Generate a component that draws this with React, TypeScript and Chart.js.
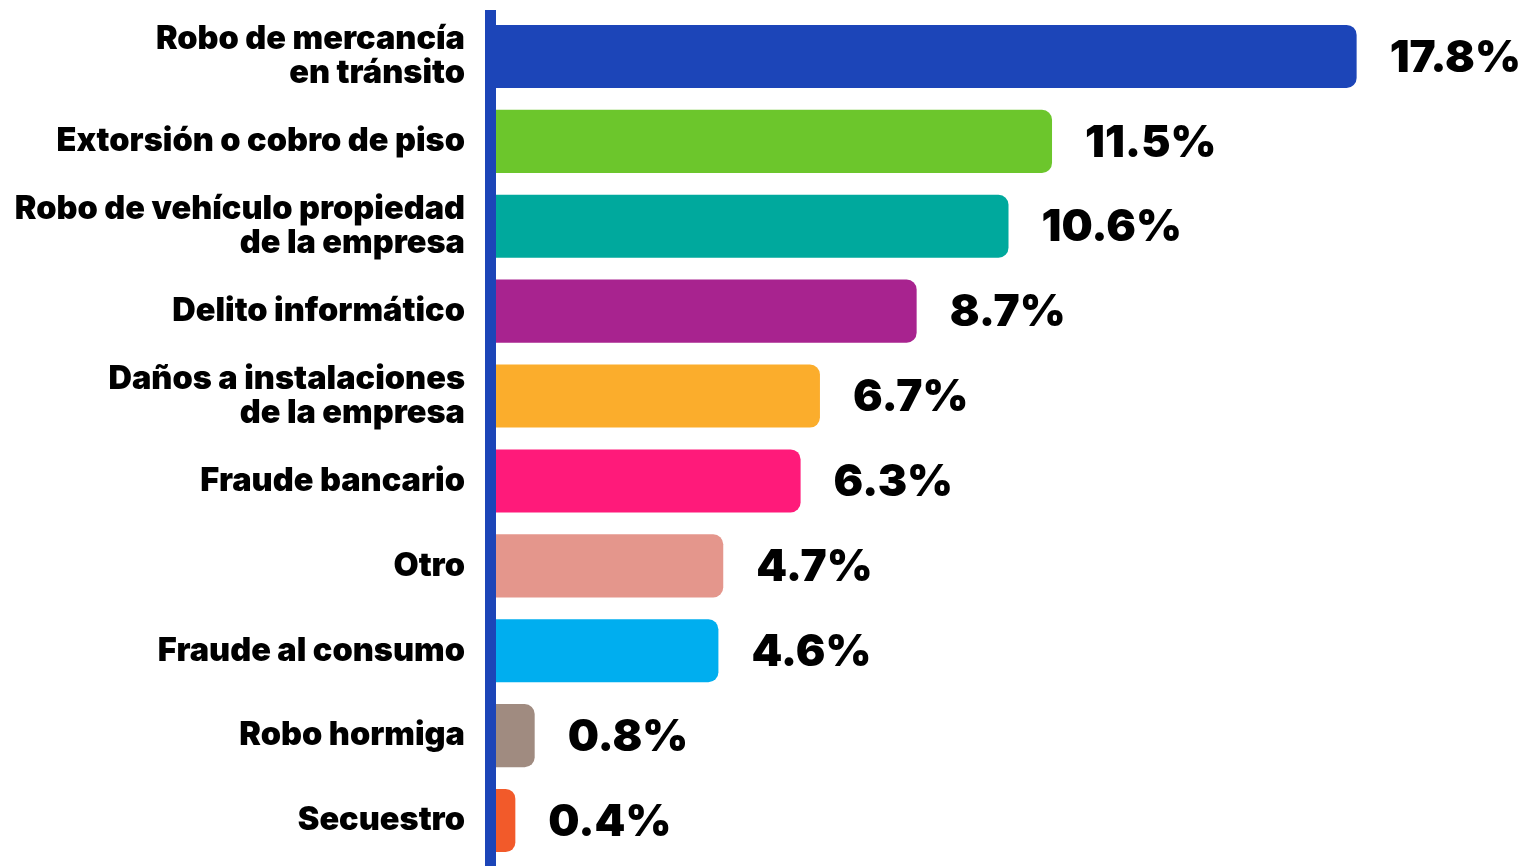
import React, { useEffect, useRef } from "react";
import { Chart, registerables } from "chart.js";

Chart.register(...registerables);

const categories: (string | string[])[] = [
  ["Robo de mercancía", "en tránsito"],
  "Extorsión o cobro de piso",
  ["Robo de vehículo propiedad", "de la empresa"],
  "Delito informático",
  ["Daños a instalaciones", "de la empresa"],
  "Fraude bancario",
  "Otro",
  "Fraude al consumo",
  "Robo hormiga",
  "Secuestro",
];

const values: number[] = [17.8, 11.5, 10.6, 8.7, 6.7, 6.3, 4.7, 4.6, 0.8, 0.4];

const barColors: string[] = [
  "#1c45b8",
  "#6cc62c",
  "#00a99d",
  "#a8238f",
  "#fbad2c",
  "#ff1a7a",
  "#e4968c",
  "#00aeef",
  "#a08b80",
  "#f25a2a",
];

const axisColor = "#1c45b8";
const FONT = "Inter, 'Noto Sans', sans-serif";

const overlayPlugin = {
  id: "overlay",
  beforeDatasetsDraw(chart: any) {
    const { ctx, chartArea } = chart;
    ctx.save();
    ctx.fillStyle = axisColor;
    ctx.fillRect(chartArea.left - 11, chartArea.top - 4, 11, chart.height - chartArea.top + 4);
    ctx.restore();
  },
  afterDatasetsDraw(chart: any) {
    const { ctx } = chart;
    const meta = chart.getDatasetMeta(0);
    ctx.save();
    ctx.fillStyle = "#000000";
    ctx.font = `900 44px ${FONT}`;
    ctx.textAlign = "left";
    ctx.textBaseline = "middle";
    meta.data.forEach((bar: any, i: number) => {
      const v = values[i];
      ctx.fillText(v.toFixed(1) + "%", bar.x + 33, bar.y + 2);
    });
    ctx.restore();
  },
};

export default function App() {
  const canvasRef = useRef<HTMLCanvasElement | null>(null);

  useEffect(() => {
    document.body.style.margin = "0";
    document.body.style.background = "#ffffff";
    const canvas = canvasRef.current;
    if (!canvas) return;
    const chart = new Chart(canvas, {
      type: "bar",
      data: {
        labels: categories,
        datasets: [
          {
            data: values,
            backgroundColor: barColors,
            borderRadius: 10,
            borderSkipped: "start",
            categoryPercentage: 1,
            barPercentage: 0.743,
          },
        ],
      },
      options: {
        indexAxis: "y",
        animation: false,
        responsive: false,
        maintainAspectRatio: false,
        layout: { padding: { top: 14, bottom: 3, right: 66, left: 0 } },
        plugins: {
          legend: { display: false },
          tooltip: { enabled: false },
        },
        scales: {
          x: {
            display: false,
            min: 0,
            max: 20,
          },
          y: {
            grid: { display: false },
            border: { display: false },
            afterFit(scale: any) {
              scale.width = 496;
              scale.paddingTop = 0;
              scale.paddingBottom = 0;
            },
            ticks: {
              color: "#000000",
              padding: 23,
              font: { family: FONT, size: 32.5, weight: "900", lineHeight: 1.05 },
            },
          },
        },
      },
      plugins: [overlayPlugin],
    });
    return () => chart.destroy();
  }, []);

  return (
    <div style={{ width: 1529, height: 866, background: "#fff" }}>
      <canvas ref={canvasRef} width={1529} height={866} style={{ display: "block" }} />
    </div>
  );
}
